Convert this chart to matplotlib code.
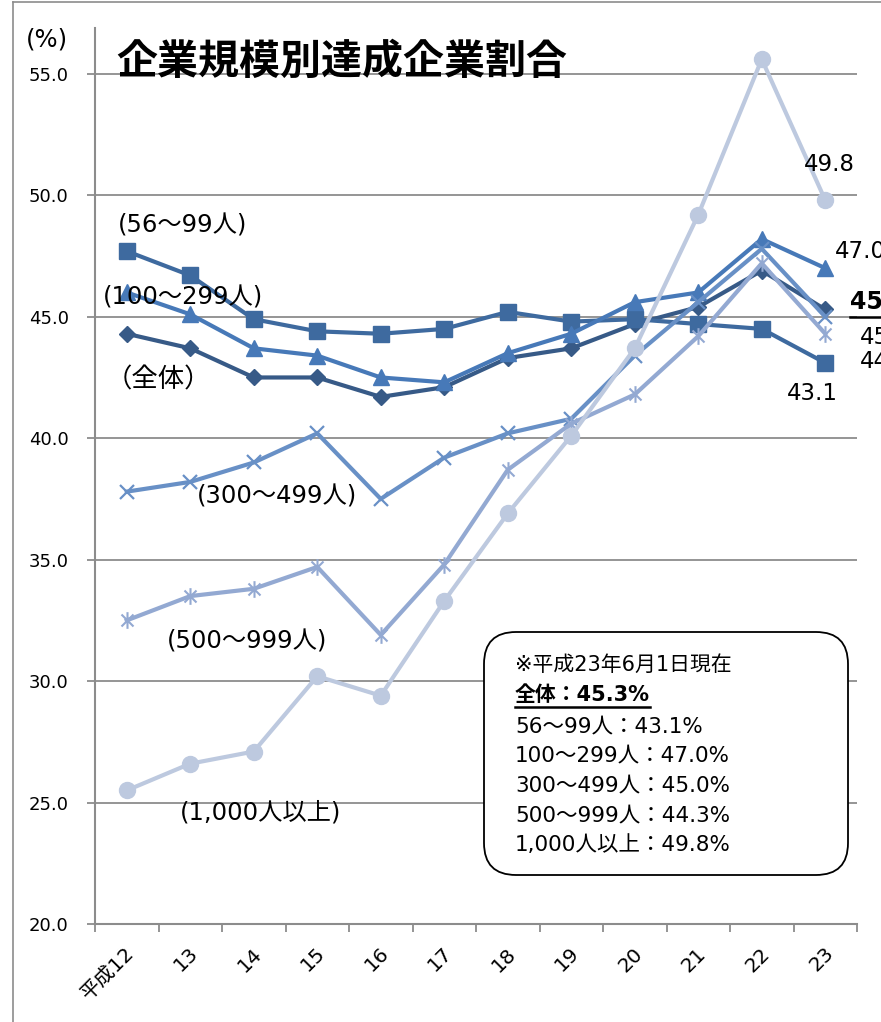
import matplotlib
matplotlib.use("Agg")
import matplotlib.pyplot as plt
from matplotlib.patches import FancyBboxPatch
from matplotlib.path import Path
from matplotlib.lines import Line2D
from matplotlib.transforms import ScaledTranslation

plt.rcParams['font.family'] = ['DejaVu Sans', 'Noto Sans CJK JP']

# ---- data -------------------------------------------------------------
years = ['平成12', '13', '14', '15', '16', '17', '18', '19', '20', '21', '22', '23']

overall      = [44.3, 43.7, 42.5, 42.5, 41.7, 42.1, 43.3, 43.7, 44.7, 45.4, 46.9, 45.3]
size_56_99   = [47.7, 46.7, 44.9, 44.4, 44.3, 44.5, 45.2, 44.8, 44.9, 44.7, 44.5, 43.1]
size_100_299 = [46.0, 45.1, 43.7, 43.4, 42.5, 42.3, 43.5, 44.3, 45.6, 46.0, 48.2, 47.0]
size_300_499 = [37.8, 38.2, 39.0, 40.2, 37.5, 39.2, 40.2, 40.8, 43.4, 45.6, 47.8, 45.0]
size_500_999 = [32.5, 33.5, 33.8, 34.7, 31.9, 34.8, 38.7, 40.6, 41.8, 44.2, 47.2, 44.3]
size_1000    = [25.5, 26.6, 27.1, 30.2, 29.4, 33.3, 36.9, 40.1, 43.7, 49.2, 55.6, 49.8]

series_names = ['（全体）', '(56～99人)', '(100～299人)', '(300～499人)',
                '(500～999人)', '(1,000人以上)']
note_title = '※平成23年6月1日現在'
note_lines = ['56～99人：43.1%', '100～299人：47.0%', '300～499人：45.0%',
              '500～999人：44.3%', '1,000人以上：49.8%']
note_overall = '全体：45.3%'

# ---- figure -----------------------------------------------------------
W, H = 881, 1022
fig = plt.figure(figsize=(W / 100, H / 100), dpi=100)
ax = fig.add_axes([95 / W, 98 / H, 762 / W, (H - 28 - 98) / H])

x = list(range(len(years)))

star = Path([(0, -1), (0, 1), (-0.72, -0.72), (0.72, 0.72), (-0.72, 0.72), (0.72, -0.72)],
            [Path.MOVETO, Path.LINETO] * 3)

styles = [
    (overall,      '#375A87', dict(marker='D', markersize=8.5)),
    (size_56_99,   '#3E6A9F', dict(marker='s', markersize=11.5)),
    (size_100_299, '#4779B8', dict(marker='^', markersize=12)),
    (size_300_499, '#6890C6', dict(marker='x', markersize=10, markeredgewidth=1.6)),
    (size_500_999, '#93A9D2', dict(marker=star, markersize=12, markeredgewidth=1.5)),
    (size_1000,    '#BDC9DF', dict(marker='o', markersize=11.5)),
]
for vals, col, mk in styles:
    ax.plot(x, vals, color=col, lw=3.0, markerfacecolor=col, markeredgecolor=col,
            solid_joinstyle='miter', clip_on=False, **mk)

ax.set_xlim(-0.5, len(years) - 0.5)
ax.set_ylim(20, 20 + (H - 28 - 98) / 24.29)
yt = [20, 25, 30, 35, 40, 45, 50, 55]
ax.set_yticks(yt)
ax.set_yticklabels([f'{v:.1f}' for v in yt])
ax.yaxis.grid(True, color='#8C8C8C', lw=1.3)
ax.set_axisbelow(True)

ax.set_xticks([i - 0.5 for i in range(len(years) + 1)])
ax.set_xticklabels([])
ax.set_xticks(x, labels=years, minor=True)
ax.tick_params(axis='x', which='major', length=6, width=1.3, color='#8C8C8C', direction='out')
ax.tick_params(axis='x', which='minor', length=0, pad=14, labelsize=14.5)
ax.tick_params(axis='y', length=6, width=1.3, color='#8C8C8C', labelsize=13, pad=13)
shift = ScaledTranslation(5 / 100, -7 / 100, fig.dpi_scale_trans)
for lbl in ax.get_xticklabels(minor=True):
    lbl.set_rotation(45)
    lbl.set_ha('right')
    lbl.set_va('center')
    lbl.set_rotation_mode('anchor')
    lbl.set_transform(lbl.get_transform() + shift)

for side in ('top', 'right'):
    ax.spines[side].set_visible(False)
for side in ('left', 'bottom'):
    ax.spines[side].set_color('#8C8C8C')
    ax.spines[side].set_linewidth(1.5)

# series name labels
name_pos = [(-0.34, 42.4), (-0.14, 48.74), (-0.37, 45.78),
            (1.10, 37.59), (0.63, 31.62), (0.84, 24.58)]
for i, (name, (tx, ty)) in enumerate(zip(series_names, name_pos)):
    fam = ['Noto Sans CJK JP'] if i == 0 else None
    ax.text(tx, ty, name, fontsize=19 if i == 0 else 17.5, ha='left', va='center',
            color='black', family=fam)

# value labels for the last year
last = len(years) - 1
val_labels = [
    (size_1000,    (4, 36),   'center', 'normal'),
    (size_100_299, (10, 17),  'left',   'normal'),
    (overall,      (25, 7),   'left',   'bold'),
    (size_300_499, (35, -21), 'left',   'normal'),
    (size_500_999, (35, -28), 'left',   'normal'),
    (size_56_99,   (-13, -31), 'center', 'normal'),
]
val_texts = []
for vals, off, ha, wt in val_labels:
    t = ax.annotate(f'{vals[last]:.1f}', xy=(last, vals[last]), xytext=off,
                    textcoords='offset pixels', ha=ha, va='center',
                    fontsize=17 if wt == 'bold' else 16.5, fontweight=wt,
                    annotation_clip=False)
    val_texts.append(t)

# title and unit
fig.text(116 / W, 1 - 62 / H, '企業規模別達成企業割合', fontsize=29.5, fontweight='bold',
         family=['Noto Sans CJK JP'], ha='left', va='center')
fig.text(26 / W, 1 - 40 / H, '(%)', fontsize=17.5, ha='left', va='center')

# outer frame of the chart area
fig.add_artist(Line2D([13 / W, 13 / W], [0, 1 - 2 / H], color='#8C8C8C', lw=1.2,
                      transform=fig.transFigure))
fig.add_artist(Line2D([13 / W, 1], [1 - 2 / H, 1 - 2 / H], color='#8C8C8C', lw=1.2,
                      transform=fig.transFigure))

# note box
box = FancyBboxPatch((4.84, (H - 875) / 100), 3.64, 2.43,
                     boxstyle='round,pad=0,rounding_size=0.32',
                     transform=fig.dpi_scale_trans, facecolor='white',
                     edgecolor='black', lw=1.3, zorder=5)
fig.add_artist(box)
tx0 = 5.15
rows_y = [665, 695, 726, 755, 785, 815, 845]
fig.text(tx0, (H - rows_y[0]) / 100, note_title, transform=fig.dpi_scale_trans,
         fontsize=15, ha='left', va='center', zorder=6)
t_ov = fig.text(tx0, (H - rows_y[1]) / 100, note_overall, transform=fig.dpi_scale_trans,
                fontsize=15, fontweight='bold', ha='left', va='center', zorder=6)
for line, yy in zip(note_lines, rows_y[2:]):
    fig.text(tx0, (H - yy) / 100, line, transform=fig.dpi_scale_trans,
             fontsize=15.5, ha='left', va='center', zorder=6)

# underlines
fig.canvas.draw()
r = fig.canvas.get_renderer()
for t, gap in ((t_ov, 2), (val_texts[2], 3)):
    bb = t.get_window_extent(r)
    fig.add_artist(Line2D([bb.x0, bb.x1], [bb.y0 - gap, bb.y0 - gap], color='black',
                          lw=1.8, transform=None, zorder=7))

fig.savefig('out.png', dpi=100)
